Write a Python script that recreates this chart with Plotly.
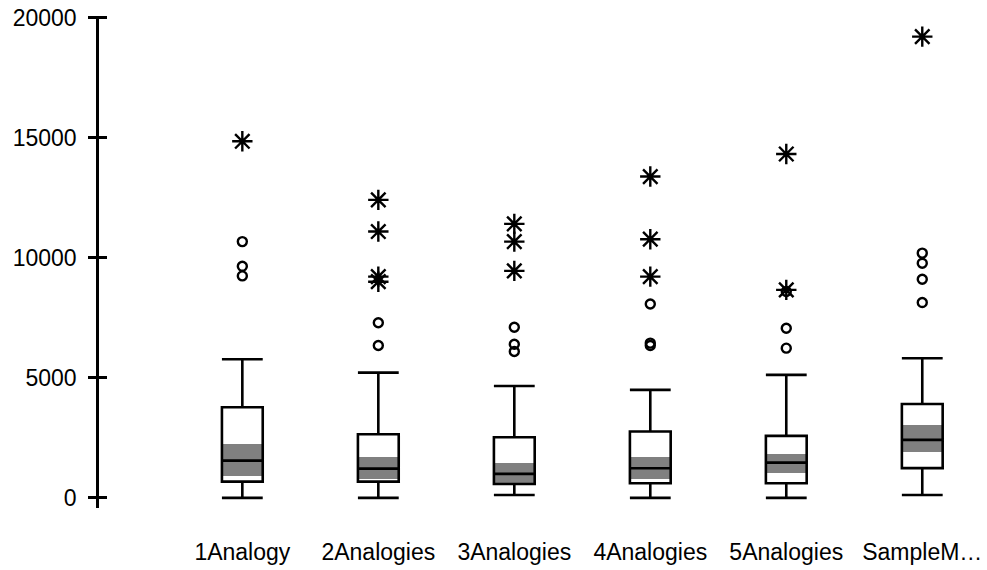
import plotly.graph_objects as go

# Box-plot summary per condition
categories = ["1Analogy", "2Analogies", "3Analogies", "4Analogies", "5Analogies", "SampleM…"]
lower_whisker = [0, 0, 120, 0, 0, 120]
q1 = [680, 680, 580, 610, 610, 1240]
median = [1555, 1220, 1000, 1235, 1470, 2420]
q3 = [3775, 2650, 2530, 2765, 2585, 3915]
upper_whisker = [5780, 5220, 4665, 4500, 5125, 5820]

# Confidence band around each median (shaded)
ci_low = [915, 780, 580, 780, 1055, 1930]
ci_high = [2250, 1695, 1470, 1695, 1835, 3040]

# Outliers (circles) and extreme values (asterisks)
outliers = [
    [10680, 9650, 9250],
    [7300, 6350],
    [7110, 6400, 6100],
    [8080, 6450, 6350],
    [8600, 7070, 6240],
    [10200, 9780, 9110, 8140],
]
extremes = [
    [14860],
    [12420, 11100, 9220, 9010],
    [11420, 10680, 9460],
    [13390, 10780, 9220],
    [14330, 8670],
    [19220],
]

y_ticks = [0, 5000, 10000, 15000, 20000]
y_ticktext = ["0", "5000", "10000", "15000", "20000"]

positions = list(range(len(categories)))
box_width = 0.3

out_x = [positions[i] for i, vals in enumerate(outliers) for _ in vals]
out_y = [v for vals in outliers for v in vals]
ext_x = [positions[i] for i, vals in enumerate(extremes) for _ in vals]
ext_y = [v for vals in extremes for v in vals]

fig = go.Figure()

# Shaded median band, drawn beneath the box outlines
fig.add_trace(go.Bar(
    x=positions,
    y=[h - l for h, l in zip(ci_high, ci_low)],
    base=ci_low,
    width=box_width,
    marker=dict(color="#808080", line=dict(width=0)),
    hoverinfo="skip",
    showlegend=False,
))

fig.add_trace(go.Box(
    x=positions,
    q1=q1,
    median=median,
    q3=q3,
    lowerfence=lower_whisker,
    upperfence=upper_whisker,
    width=box_width,
    whiskerwidth=1,
    boxpoints=False,
    fillcolor="rgba(0,0,0,0)",
    line=dict(color="black", width=2.6),
    showlegend=False,
))

fig.add_trace(go.Scatter(
    x=out_x, y=out_y, mode="markers",
    marker=dict(symbol="circle-open", size=9, color="black",
                line=dict(color="black", width=2.4)),
    showlegend=False,
))

fig.add_trace(go.Scatter(
    x=ext_x, y=ext_y, mode="markers",
    marker=dict(symbol="asterisk-open", size=17, color="black",
                line=dict(color="black", width=2.4)),
    showlegend=False,
))

# Invisible trace to carry the inner tick marks of the overlaid axis
fig.add_trace(go.Scatter(
    x=[0], y=[0], yaxis="y2", mode="markers",
    marker=dict(opacity=0), hoverinfo="skip", showlegend=False,
))

font = dict(family="Liberation Sans, Arial, sans-serif", size=23, color="black")

fig.update_layout(
    width=987, height=570,
    margin=dict(l=99, r=0, t=16, b=62),
    paper_bgcolor="white",
    plot_bgcolor="white",
    font=font,
    bargap=0,
    xaxis=dict(
        range=[-1.054, 5.476],
        tickvals=positions,
        ticktext=categories,
        showline=False, showgrid=False, zeroline=False,
        ticks="",
        ticklabelstandoff=28,
        tickfont=font,
    ),
    yaxis=dict(
        range=[-420, 20080],
        tickvals=y_ticks,
        ticktext=y_ticktext,
        showline=True, linecolor="black", linewidth=2.6,
        ticks="outside", ticklen=8, tickwidth=2.6, tickcolor="black",
        showgrid=False, zeroline=False,
        ticklabelstandoff=7,
        tickfont=font,
    ),
    yaxis2=dict(
        range=[-420, 20080],
        overlaying="y", side="left", anchor="x",
        tickvals=y_ticks,
        ticks="inside", ticklen=8, tickwidth=2.6, tickcolor="black",
        showticklabels=False, showline=False, showgrid=False, zeroline=False,
    ),
)

fig.write_html("out.html")
